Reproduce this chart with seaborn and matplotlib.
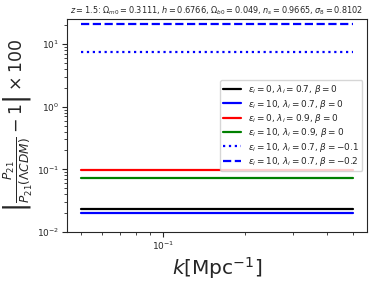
import numpy as np
import pandas as pd
import matplotlib
matplotlib.use("Agg")
import matplotlib.pyplot as plt
import seaborn as sns

# k grid (Mpc^-1)
k_vals = [0.05, 0.07, 0.1, 0.15, 0.2, 0.3, 0.4, 0.5]

# relative difference x 100 for each model (flat over k)
labels = [r"$\epsilon_i = 0$, $\lambda_i = 0.7$, $\beta = 0$",
          r"$\epsilon_i = 10$, $\lambda_i = 0.7$, $\beta = 0$",
          r"$\epsilon_i = 0$, $\lambda_i = 0.9$, $\beta = 0$",
          r"$\epsilon_i = 10$, $\lambda_i = 0.9$, $\beta = 0$",
          r"$\epsilon_i = 10$, $\lambda_i = 0.7$, $\beta = -0.1$",
          r"$\epsilon_i = 10$, $\lambda_i = 0.7$, $\beta = -0.2$"]
diff_vals = [0.0233, 0.0200, 0.096, 0.074, 7.3, 20.5]
couleurs = ["black", "blue", "red", "green", "blue", "blue"]
styles = ["-", "-", "-", "-", ":", "--"]

sns.set_style("ticks")

fig = plt.figure(figsize=(3.74, 2.83), dpi=100)
ax = fig.add_axes([0.179, 0.18, 0.802, 0.753])

# Trace de chaque modele
for lab, val, c, ls in zip(labels, diff_vals, couleurs, styles):
    df = pd.DataFrame({"k": k_vals, "diff": [val] * len(k_vals)})
    sns.lineplot(data=df, x="k", y="diff", color=c, linestyle=ls,
                 linewidth=1.6, label=lab, ax=ax)

ax.set_xscale("log")
ax.set_yscale("log")
ax.set_ylim(1e-2, 25)
ax.tick_params(labelsize=6.5, direction="out", pad=2)
ax.tick_params(which="minor", direction="out")

ax.set_title(r"$z = 1.5$: $\Omega_{m0} = 0.3111$, $h = 0.6766$, $\Omega_{b0} = 0.049$, "
             r"$n_s = 0.9665$, $\sigma_8 = 0.8102$", fontsize=5.9, pad=4)
ax.set_xlabel(r"$k[\mathrm{Mpc}^{-1}]$", fontsize=14.5, labelpad=2)
ax.set_ylabel(r"$\left|\frac{P_{21}}{P_{21}(\Lambda CDM)} - 1\right| \times 100$",
              fontsize=12.5, labelpad=2)

leg = ax.legend(loc="center right", fontsize=6.4, labelspacing=0.15,
                borderpad=0.35)

fig.savefig("out.png", dpi=100)
